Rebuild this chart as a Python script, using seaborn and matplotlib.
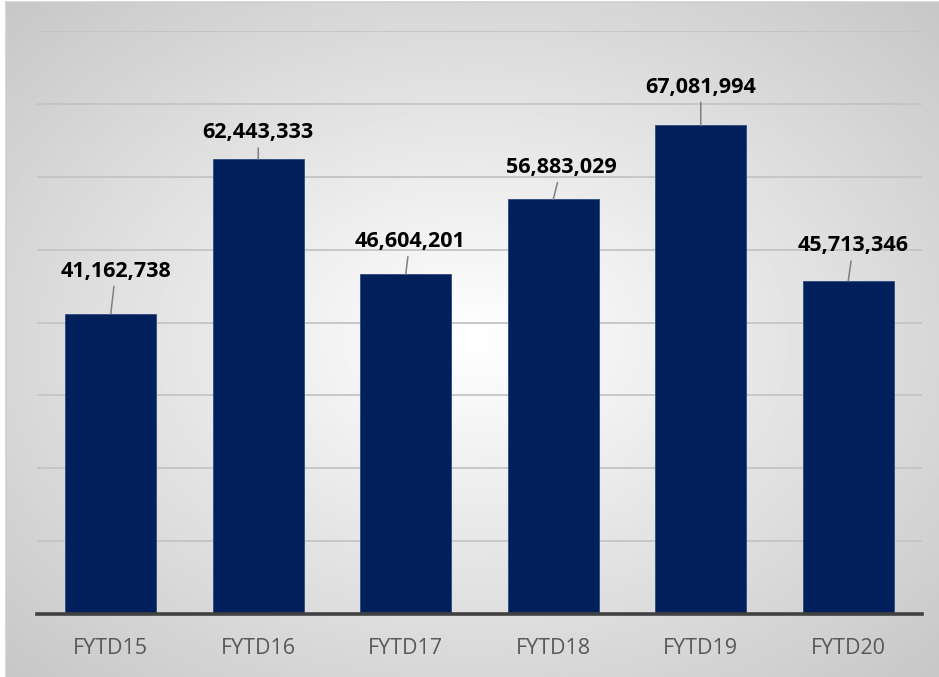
import numpy as np
import pandas as pd
import matplotlib
matplotlib.use('Agg')
import matplotlib.pyplot as plt
import seaborn as sns

years = ['FYTD15', 'FYTD16', 'FYTD17', 'FYTD18', 'FYTD19', 'FYTD20']
totals = [41162738, 62443333, 46604201, 56883029, 67081994, 45713346]

# how far each value label sits from the top of its bar (pixels)
label_dx = [5, 0, 4, 8, 0, 5]
label_dy = [43, 26, 33, 32, 38, 35]

df = pd.DataFrame({'year': years, 'total': totals})

sns.set_style('white')
plt.rcParams['font.family'] = ['Open Sans', 'DejaVu Sans']

W, H = 939, 677
fig = plt.figure(figsize=(W / 100, H / 100), dpi=100, facecolor='white')

# radial grey-to-white background
bg = fig.add_axes([6 / W, 0, 1 - 6 / W, 1 - 2 / H], zorder=0)
yy, xx = np.mgrid[0:1:300j, 0:1:400j]
r = np.sqrt((xx - 0.5) ** 2 + (yy - 0.5) ** 2) / np.sqrt(0.5)
shade = 1 - 0.22 * r
bg.imshow(shade, cmap='gray', vmin=0, vmax=1, aspect='auto', extent=[0, 1, 0, 1])
bg.set_xticks([])
bg.set_yticks([])
for side in ['right', 'bottom']:
    bg.spines[side].set_visible(False)
for side in ['left', 'top']:
    bg.spines[side].set_color('#cfcfcf')
    bg.spines[side].set_linewidth(1.2)

ax = fig.add_axes([37 / W, (H - 614) / H, (922 - 37) / W, (614 - 31) / H], zorder=1)
ax.set_facecolor('none')

sns.barplot(data=df, x='year', y='total', color='#001f5b', saturation=1,
            width=0.62, edgecolor='#2c4a7c', linewidth=0.6, ax=ax, zorder=3)

ax.set_ylim(0, 80e6)
ax.set_yticks(np.arange(0, 80e6 + 1, 10e6))
ax.yaxis.grid(True, color='#c4c4c4', linewidth=1.3, zorder=0)
ax.set_axisbelow(True)
ax.set_yticklabels([])
ax.tick_params(axis='y', length=0)
ax.tick_params(axis='x', length=0, labelsize=15.5, labelcolor='#595959', pad=17)
ax.set_xlabel('')
ax.set_ylabel('')
for side in ['left', 'right', 'top']:
    ax.spines[side].set_visible(False)
ax.spines['bottom'].set_color('#404040')
ax.spines['bottom'].set_linewidth(2.6)
ax.spines['bottom'].set_zorder(4)

for i, v in enumerate(totals):
    ax.annotate(f'{v:,}', xy=(i, v), xytext=(label_dx[i], label_dy[i]),
                textcoords='offset pixels', ha='center', va='center',
                fontsize=15.5, fontweight='bold', color='black',
                arrowprops=dict(arrowstyle='-', color='#7f7f7f', lw=1.1,
                                shrinkA=1, shrinkB=0))

fig.savefig('out.png', dpi=100, facecolor='white')
